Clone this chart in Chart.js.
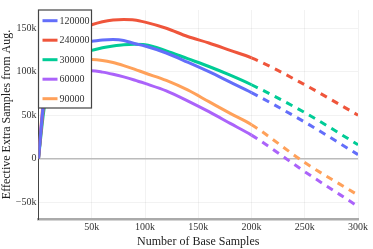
<!DOCTYPE html>
<html>
<head>
<meta charset="utf-8">
<script src="https://cdn.jsdelivr.net/npm/chart.js@4/dist/chart.umd.min.js"></script>
<style>
  html, body { margin: 0; padding: 0; background: #fff; }
  #wrap { width: 373px; height: 249px; position: relative; }
</style>
</head>
<body>
<div id="wrap"><canvas id="chart"></canvas></div>
<script>
// base samples (x) shared by every series
const baseSamples = [0, 5000, 10000, 20000, 30000, 40000, 50000, 60000, 70000, 80000, 90000,
  100000, 120000, 140000, 160000, 180000, 200000, 250000, 300000];

const seriesLabels = ["120000", "240000", "30000", "60000", "90000"];
const seriesColors = ["#636efa", "#ef553b", "#00cc96", "#ab63fa", "#ffa15a"];

const s120000 = [0, 66000, 95000, 120000, 130000, 134000, 135000, 136500, 137000, 136000, 132500,
  129500, 121500, 111000, 100000, 88000, 76000, 42000, 4600];
const s240000 = [0, 62000, 95000, 125000, 140000, 149000, 154000, 157500, 159500, 160000, 159500,
  157000, 150000, 140500, 133000, 124500, 116000, 85000, 50000];
const s30000 = [0, 55000, 85000, 108000, 117000, 121500, 124500, 127500, 129500, 131000, 131500,
  131000, 124000, 115000, 106000, 96000, 85000, 53000, 16000];
const s60000 = [0, 68000, 88000, 97000, 100000, 101000, 101000, 99500, 97000, 94000, 90500,
  86500, 78000, 66500, 54000, 40500, 27000, -15000, -55000];
const s90000 = [0, 72000, 95000, 108000, 112000, 114000, 114000, 113000, 110500, 107000, 103000,
  98500, 90000, 79000, 65500, 52000, 39000, -4500, -42000];

const seriesValues = [s120000, s240000, s30000, s60000, s90000];

const xTicks = [50000, 100000, 150000, 200000, 250000, 300000];
const yTicks = [-50000, 0, 50000, 100000, 150000];

// past 200k the curves are extrapolated -> dashed
const dashFrom = 200000;

function fmtK(v) {
  if (v === 0) return "0";
  const s = Math.abs(v / 1000) + "k";
  return v < 0 ? "\u2212" + s : s;
}

// legend drawn inside the plot, top-left corner
const insideLegend = {
  id: "insideLegend",
  afterDatasetsDraw(chart) {
    const { ctx, chartArea } = chart;
    const x0 = chartArea.left, y0 = chartArea.top;
    const w = 53, h = 98;
    ctx.save();
    ctx.fillStyle = "#fff";
    ctx.fillRect(x0, y0, w, h);
    ctx.strokeStyle = "#444";
    ctx.lineWidth = 1.2;
    ctx.strokeRect(x0, y0, w, h);
    ctx.font = "10px 'Liberation Serif'";
    ctx.textBaseline = "middle";
    chart.data.datasets.forEach((ds, i) => {
      const cy = y0 + 10.7 + i * 19.5;
      ctx.strokeStyle = ds.borderColor;
      ctx.lineWidth = 3;
      ctx.beginPath();
      ctx.moveTo(x0 + 4, cy);
      ctx.lineTo(x0 + 19, cy);
      ctx.stroke();
      ctx.fillStyle = "#333";
      ctx.fillText(ds.label, x0 + 21, cy + 0.5);
    });
    ctx.restore();
  }
};

const datasets = seriesLabels.map((label, i) => ({
  label,
  data: baseSamples.map((x, j) => ({ x, y: seriesValues[i][j] })),
  borderColor: seriesColors[i],
  backgroundColor: seriesColors[i],
  borderWidth: 3,
  pointRadius: 0,
  cubicInterpolationMode: "monotone",
  segment: {
    borderDash: (c) => (c.p0.parsed.x >= dashFrom ? [7, 6] : undefined)
  }
}));

new Chart(document.getElementById("chart"), {
  type: "line",
  data: { datasets },
  options: {
    responsive: true,
    maintainAspectRatio: false,
    animation: false,
    layout: { padding: { top: 10, right: 15, left: 0, bottom: 0 } },
    plugins: {
      legend: { display: false },
      tooltip: { enabled: false }
    },
    scales: {
      x: {
        type: "linear",
        min: 0,
        max: 300000,
        afterBuildTicks: (s) => { s.ticks = xTicks.map((v) => ({ value: v })); },
        afterFit: (s) => { s.height = 30; },
        ticks: {
          color: "#333",
          font: { family: "'Liberation Serif'", size: 10 },
          padding: 2,
          maxRotation: 0,
          callback: (v) => fmtK(v)
        },
        grid: { color: "rgba(0,0,0,0.05)", drawTicks: false },
        border: { color: "#aaa", width: 2.5 },
        title: {
          display: true,
          text: "Number of Base Samples",
          color: "#222",
          font: { family: "'Liberation Serif'", size: 12 },
          padding: { top: 2, bottom: 0 }
        }
      },
      y: {
        type: "linear",
        min: -69500,
        max: 171000,
        afterBuildTicks: (s) => { s.ticks = yTicks.map((v) => ({ value: v })); },
        afterFit: (s) => { s.width = 38.5; },
        ticks: {
          color: "#333",
          font: { family: "'Liberation Serif'", size: 10 },
          padding: 2,
          callback: (v) => fmtK(v)
        },
        grid: {
          drawTicks: false,
          color: (c) => (c.tick && c.tick.value === 0 ? "#bbb" : "rgba(0,0,0,0.05)"),
          lineWidth: (c) => (c.tick && c.tick.value === 0 ? 1.5 : 1)
        },
        border: { color: "#444", width: 1 },
        title: {
          display: true,
          text: "Effective Extra Samples from Aug.",
          color: "#222",
          font: { family: "'Liberation Serif'", size: 12 },
          padding: { top: 0, bottom: 0 }
        }
      }
    }
  },
  plugins: [insideLegend]
});
</script>
</body>
</html>
